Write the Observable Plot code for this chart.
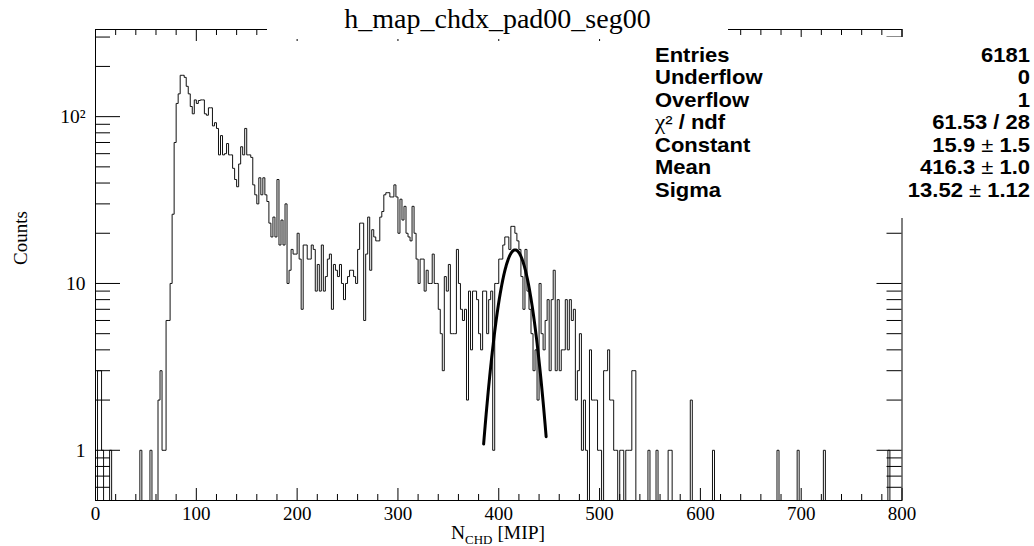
<!DOCTYPE html>
<html><head><meta charset="utf-8">
<script src="https://cdn.jsdelivr.net/npm/d3@7"></script>
<script src="https://cdn.jsdelivr.net/npm/@observablehq/plot@0.6"></script>
<style>
body{margin:0;background:#fff;}
#wrap{width:1034px;height:546px;overflow:hidden;background:#fff;}
</style></head>
<body><div id="wrap"></div>
<script>
// ---- data ----
const binWidth = 2;       // N_CHD bin width [MIP], 400 bins on 0..800
const xMax = 800;
const counts = [
  0,3,3,1,0,0,0,1,0,0,0,0,0,0,0,0,0,0,0,0,
  0,0,1,0,0,0,0,1,0,0,0,2,3,1,1,6,6,10,26,70,
  120,137,177,177,172,152,137,115,104,126,120,125,126,126,104,102,113,113,88,92,
  85,59,77,59,60,69,59,59,49,42,38,52,66,59,85,59,59,57,39,34,
  30,43,34,43,34,31,23,19,25,19,42,17,24,17,30,10,12,16,15,15,
  20,14,7,17,17,14,14,17,16,9,13,9,17,9,11,14,15,7,13,12,
  11,13,10,8,10,11,12,12,11,10,16,23,23,6,15,25,12,21,19,18,
  18,25,27,34,35,35,33,33,39,33,20,32,24,29,20,19,18,29,20,14,
  10,14,14,9,12,10,10,15,10,10,7,5,3,11,9,13,5,5,5,16,
  10,7,6,7,2,9,4,9,9,8,5,4,9,9,5,8,9,1,10,10,
  14,14,17,19,19,16,22,22,20,18,16,11,7,16,9,7,5,3,4,2,
  10,5,4,6,8,3,8,12,3,8,3,4,4,8,4,8,6,7,2,3,
  5,1,2,1,0,4,2,2,2,1,1,0,3,3,4,2,2,1,1,0,
  1,1,0,1,1,1,3,3,0,0,0,0,0,0,1,0,0,0,1,0,
  0,0,0,0,1,1,0,0,0,0,0,0,0,0,0,2,0,0,0,0,
  0,0,0,0,0,0,1,0,0,0,0,0,0,0,0,0,0,0,0,0,
  0,0,0,0,0,0,0,0,0,0,0,0,0,0,0,0,0,0,1,0,
  0,0,0,0,0,0,0,0,1,0,0,0,0,0,0,0,0,0,0,0,
  0,1,0,0,0,0,0,0,0,0,0,0,0,0,0,0,0,0,0,0,
  0,0,0,0,0,0,0,0,0,0,0,0,0,1,0,0,0,0,0,0
];

// Gaussian fit (parameters from the stats box)
const fitConstant = 15.9;
const fitMean = 416.3;
const fitSigma = 13.52;
const fitRange = [385, 447];

// axes
const xMajorTicks = [0,100,200,300,400,500,600,700,800];
const xMinorTicks = [20,40,60,80,120,140,160,180,220,240,260,280,320,340,360,380,
                     420,440,460,480,520,540,560,580,620,640,660,680,720,740,760,780];
const yMajorTicks = [1,10,100];
const yMajorLabels = ["1","10","10\u00B2"];
const yMinorTicks = [0.6,0.7,0.8,0.9,2,3,4,5,6,7,8,9,20,30,40,50,60,70,80,90,200,300];
const yDomain = [0.5, 333];

// text
const titleText = "h_map_chdx_pad00_seg00";
const yTitle = "Counts";
const xTitleMain = "N";
const xTitleSub = "CHD";
const xTitleUnit = " [MIP]";
const statLabels = ["Entries","Underflow","Overflow","\u03C7\u00B2 / ndf","Constant","Mean","Sigma"];
const statValues = ["6181","0","1","61.53 / 28","15.9 \u00B1 1.5","416.3 \u00B1 1.0","13.52 \u00B1 1.12"];

// ---- build ----
const W = 1034, H = 546;
const mL = 95, mR = 132.5, mT = 29, mB = 46;
const innerW = W - mL - mR, innerH = H - mT - mB;

const hist = counts.map((c, i) => ({x: i * binWidth, c}));
hist.push({x: xMax, c: counts[counts.length - 1]});
const floorY = yDomain[0];

const fitPts = d3.range(fitRange[0], fitRange[1] + 1e-9, 0.5).map(x => ({
  x, y: fitConstant * Math.exp(-0.5 * ((x - fitMean) / fitSigma) ** 2)
}));

const chart = Plot.plot({
  width: W, height: H,
  marginLeft: mL, marginRight: mR, marginTop: mT, marginBottom: mB,
  x: {domain: [0, xMax]},
  y: {type: "log", domain: yDomain},
  style: {fontFamily: "'Liberation Serif', serif", fontSize: "19px", background: "white", color: "black"},
  marks: [
    Plot.line(hist, {x: "x", y: d => Math.max(d.c, floorY), curve: "step-after", stroke: "#111", strokeWidth: 1}),
    Plot.line(fitPts, {x: "x", y: "y", stroke: "black", strokeWidth: 3}),
    Plot.frame({stroke: "black"}),
    Plot.ruleX(xMajorTicks, {x: d => d, insetTop: innerH - 12, stroke: "black"}),
    Plot.ruleX(xMajorTicks, {x: d => d, insetBottom: innerH - 12, stroke: "black"}),
    Plot.ruleX(xMinorTicks, {x: d => d, insetTop: innerH - 6, stroke: "black"}),
    Plot.ruleX(xMinorTicks, {x: d => d, insetBottom: innerH - 6, stroke: "black"}),
    Plot.ruleY(yMajorTicks, {y: d => d, insetRight: innerW - 25, stroke: "black"}),
    Plot.ruleY(yMajorTicks, {y: d => d, insetLeft: innerW - 25, stroke: "black"}),
    Plot.ruleY(yMinorTicks, {y: d => d, insetRight: innerW - 15, stroke: "black"}),
    Plot.ruleY(yMinorTicks, {y: d => d, insetLeft: innerW - 15, stroke: "black"}),
    Plot.axisX({ticks: xMajorTicks, tickSize: 0, tickPadding: 5.5, label: null, tickFormat: d => String(d), fontSize: 19}),
    Plot.axisY({ticks: yMajorTicks, tickSize: 0, tickPadding: 10, label: null,
                tickFormat: d => yMajorLabels[yMajorTicks.indexOf(d)], fontSize: 19.5}),
    Plot.text([yTitle], {text: d => d, frameAnchor: "left", rotate: -90, dx: -74.5, fontSize: 19})
  ]
});

document.getElementById("wrap").appendChild(chart);
const svg = d3.select(chart);
const serif = "'Liberation Serif', serif";
const sans = "'Liberation Sans', Arial, sans-serif";

// title box
const tg = svg.append("g");
tg.append("rect").attr("x", 267).attr("y", 0).attr("width", 461).attr("height", 39).attr("fill", "white");
tg.append("text").attr("x", 497.5).attr("y", 28).attr("text-anchor", "middle")
  .attr("font-family", serif).attr("font-size", 28).attr("fill", "black").text(titleText);

// stats box
const sg = svg.append("g");
sg.append("rect").attr("x", 640).attr("y", 37).attr("width", 394).attr("height", 181).attr("fill", "white");
statLabels.forEach((lab, k) => {
  const b = 61.7 + 22.5 * k;
  const gl = sg.append("g").attr("transform", `translate(655,${b}) scale(1.1,1)`);
  const tl = gl.append("text").attr("text-anchor", "start").attr("font-family", sans).attr("font-weight", "bold")
    .attr("font-size", 20).attr("fill", "black");
  if (lab.charAt(0) === "\u03C7") {
    tl.append("tspan").attr("font-family", serif).attr("font-weight", "normal").attr("font-size", 21).text(lab.charAt(0));
    tl.append("tspan").attr("font-weight", "normal").text(lab.charAt(1));
    tl.append("tspan").text(lab.slice(2));
  } else {
    tl.text(lab);
  }
  const gv = sg.append("g").attr("transform", `translate(1030,${b}) scale(1.1,1)`);
  const tv = gv.append("text").attr("text-anchor", "end").attr("font-family", sans).attr("font-weight", "bold")
    .attr("font-size", 20).attr("fill", "black");
  const val = statValues[k];
  if (val.includes("\u00B1")) {
    const [a, c] = val.split("\u00B1");
    tv.append("tspan").text(a);
    tv.append("tspan").attr("font-weight", "normal").text("\u00B1");
    tv.append("tspan").text(c);
  } else {
    tv.text(val);
  }
});

// x title with subscript
const xt = svg.append("text").attr("x", 498).attr("y", 538.5).attr("text-anchor", "middle")
  .attr("font-family", serif).attr("font-size", 19.5).attr("fill", "black");
xt.append("tspan").text(xTitleMain);
xt.append("tspan").attr("font-size", 13).attr("dy", 5).text(xTitleSub);
xt.append("tspan").attr("dy", -5).text(xTitleUnit);
</script>
</body></html>
